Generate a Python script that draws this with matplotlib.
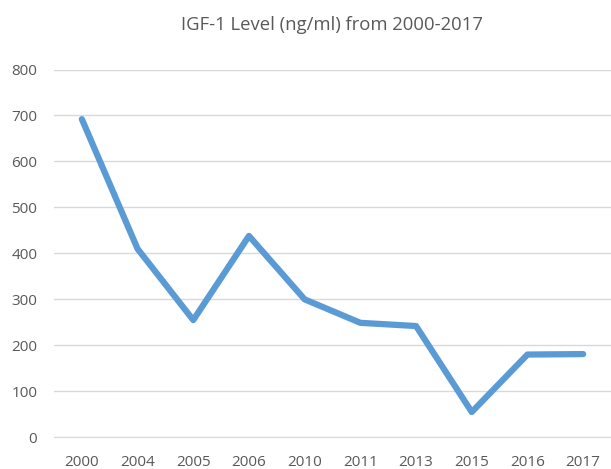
import matplotlib
matplotlib.use("Agg")
import matplotlib.pyplot as plt

years = ["2000", "2004", "2005", "2006", "2010", "2011", "2013", "2015", "2016", "2017"]
igf1 = [692, 410, 255, 438, 300, 249, 242, 55, 180, 181]
yticks = [0, 100, 200, 300, 400, 500, 600, 700, 800]

plt.rcParams['font.family'] = ['Open Sans', 'DejaVu Sans']
fig = plt.figure(figsize=(6.11, 4.69), dpi=100)
ax = fig.add_axes([0.0884, 0.0676, 0.9116, 0.7842])

x = list(range(len(years)))
ax.plot(x, igf1, color='#5B9BD5', linewidth=4.5, solid_capstyle='round', solid_joinstyle='round', zorder=3)

ax.set_xlim(-0.5, len(years) - 0.5)
ax.set_ylim(0, 800)
ax.set_yticks(yticks)
ax.set_xticks(x)
ax.set_xticklabels(years)
ax.grid(axis='y', color='#D9D9D9', linewidth=1.0)
ax.set_axisbelow(True)
for s in ['top', 'right', 'left']:
    ax.spines[s].set_visible(False)
ax.spines['bottom'].set_color('#D9D9D9')
ax.tick_params(axis='both', length=0, colors='#595959', labelsize=11)
ax.tick_params(axis='y', pad=12)
ax.tick_params(axis='x', pad=13)

fig.text(0.5426, 0.947, "IGF-1 Level (ng/ml) from 2000-2017", ha='center', va='center',
         fontsize=13.3, color='#595959')

fig.savefig("out.png", dpi=100)
